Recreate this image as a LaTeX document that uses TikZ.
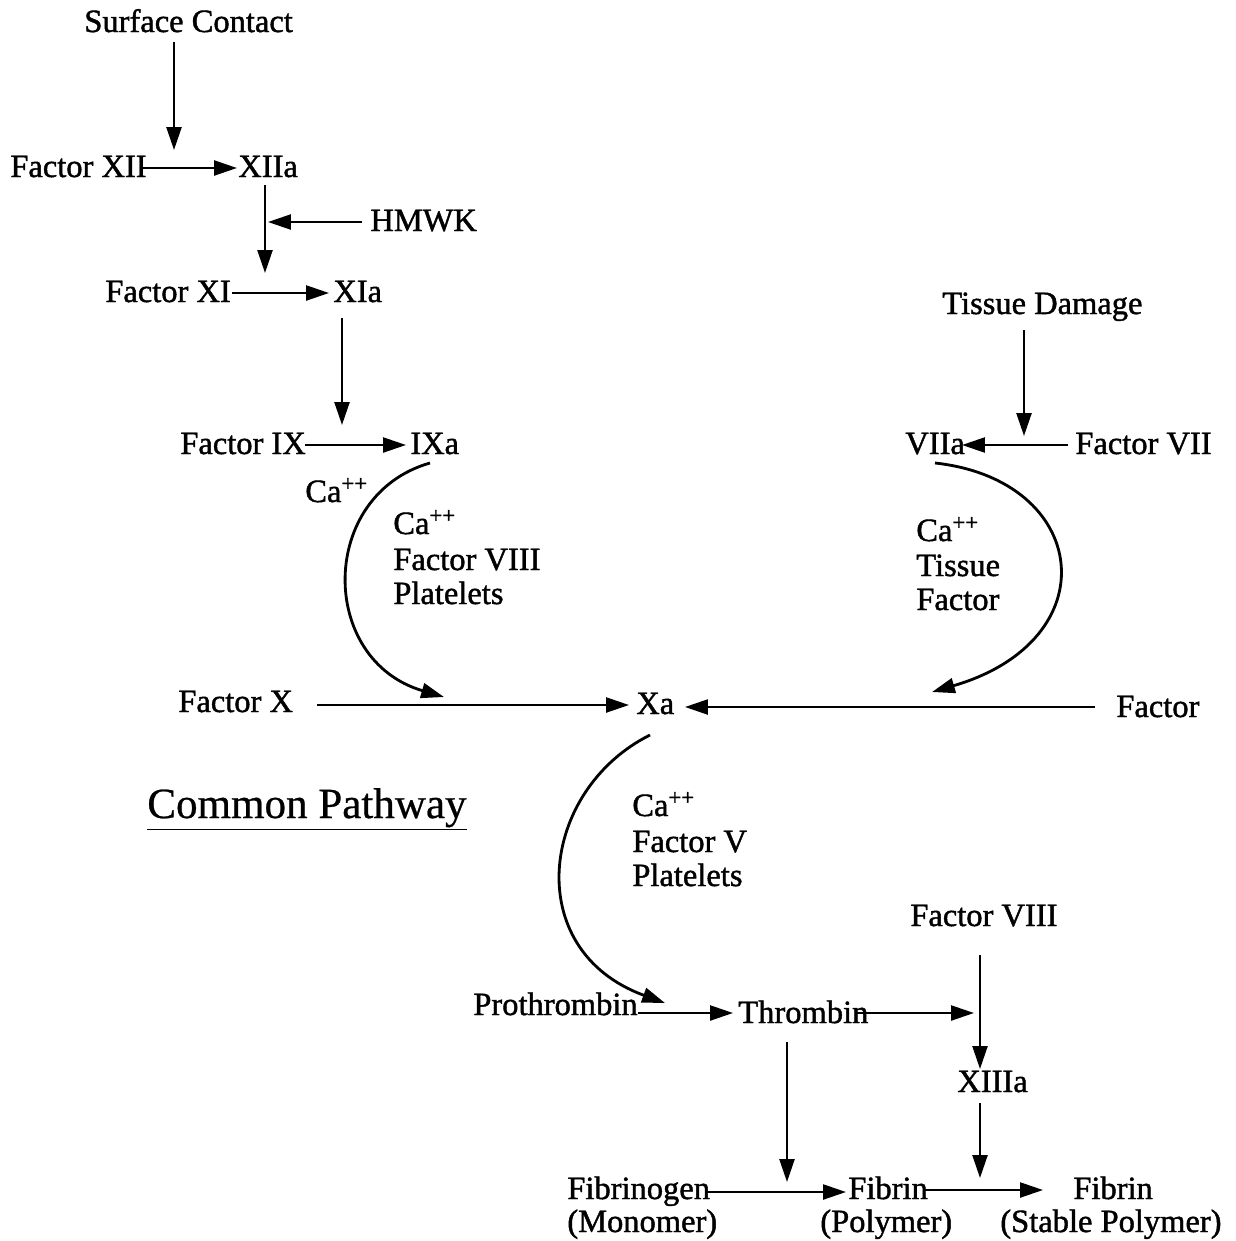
\documentclass[tikz,border=0pt]{standalone}
\usepackage{fontspec}
\setmainfont{Liberation Serif}[FakeBold=1.3]
\newfontfamily\cpfont{Liberation Serif}[FakeBold=0.6]
\usetikzlibrary{arrows.meta}
\begin{document}
\begin{tikzpicture}[x=0.02cm,y=-0.02cm,
  lbl/.style={anchor=base west,inner sep=0pt,font=\fontsize{18.5}{22}\selectfont},
  arr/.style={line width=1.3pt,-{Triangle[length=13pt,width=8.5pt]}},
  carr/.style={line width=1.6pt,-{Triangle[length=13pt,width=8.5pt]}}]
\useasboundingbox (0,0) rectangle (1235,1241);
% nodes
\node[lbl] (sc) at (84,32) {Surface Contact};
\node[lbl] (f12) at (10,177) {Factor XII};
\node[lbl] (f12a) at (238,177) {XIIa};
\node[lbl] (hmwk) at (370,231) {HMWK};
\node[lbl] (f11) at (105,302) {Factor XI};
\node[lbl] (f11a) at (333,302) {XIa};
\node[lbl] (f9) at (180,454) {Factor IX};
\node[lbl] (f9a) at (410,454) {IXa};
\node[lbl] (ca1) at (305,502) {Ca\textsuperscript{++}};
\node[lbl] (cof8) at (393,534) {Ca\textsuperscript{++}};
\node[lbl] (cof8b) at (393,570) {Factor VIII};
\node[lbl] (cof8c) at (393,604) {Platelets};
\node[lbl] (td) at (942,314) {Tissue Damage};
\node[lbl] (f7a) at (905,454) {VIIa};
\node[lbl] (f7) at (1075,454) {Factor VII};
\node[lbl] (cotf) at (916,541) {Ca\textsuperscript{++}};
\node[lbl] (cotfb) at (916,576) {Tissue};
\node[lbl] (cotfc) at (916,610) {Factor};
\node[lbl] (f10) at (178,712) {Factor X};
\node[lbl] (f10a) at (636,714) {Xa};
\node[lbl] (fr) at (1116,717) {Factor};
\node[anchor=base west,inner sep=0pt,font=\cpfont\fontsize{24.5}{28}\selectfont] (cp) at (147,818) {\underline{Common Pathway}};
\node[lbl] (co5) at (632,816) {Ca\textsuperscript{++}};
\node[lbl] (co5b) at (632,852) {Factor V};
\node[lbl] (co5c) at (632,886) {Platelets};
\node[lbl] (f8) at (910,926) {Factor VIII};
\node[lbl] (pro) at (473,1015) {Prothrombin};
\node[lbl] (thr) at (738,1023) {Thrombin};
\node[lbl] (f13a) at (957,1092) {XIIIa};
\node[lbl] (fbg) at (567,1199) {Fibrinogen};
\node[lbl] (fbgb) at (567,1232) {(Monomer)};
\node[lbl] (fb) at (848,1199) {Fibrin};
\node[lbl] (fbb) at (820,1232) {(Polymer)};
\node[lbl] (fs) at (1073,1199) {Fibrin};
\node[lbl] (fsb) at (1000,1232) {(Stable Polymer)};
% junction coordinates
\coordinate (j1) at (174,42);  \coordinate (j1e) at (174,150);
\coordinate (j2) at (142,168); \coordinate (j2e) at (237,168);
\coordinate (j3) at (265,185); \coordinate (j3e) at (265,273);
\coordinate (j4) at (362,222); \coordinate (j4e) at (268,222);
\coordinate (j5) at (232,293); \coordinate (j5e) at (329,293);
\coordinate (j6) at (342,318); \coordinate (j6e) at (342,425);
\coordinate (j7) at (305,445); \coordinate (j7e) at (406,445);
\coordinate (j8) at (1024,330); \coordinate (j8e) at (1024,436);
\coordinate (j9) at (1068,445); \coordinate (j9e) at (962,445);
\coordinate (j10) at (317,705); \coordinate (j10e) at (629,705);
\coordinate (j11) at (1095,707); \coordinate (j11e) at (685,707);
\coordinate (j12) at (638,1013); \coordinate (j12e) at (733,1013);
\coordinate (j13) at (857,1013); \coordinate (j13e) at (974,1013);
\coordinate (j14) at (980,955); \coordinate (j14e) at (980,1069);
\coordinate (j15) at (980,1103); \coordinate (j15e) at (980,1178);
\coordinate (j16) at (787,1042); \coordinate (j16e) at (787,1182);
\coordinate (j17) at (705,1192); \coordinate (j17e) at (846,1192);
\coordinate (j18) at (925,1190); \coordinate (j18e) at (1043,1190);
% straight connectors
\draw[arr] (j1) -- (j1e);
\draw[arr] (j2) -- (j2e);
\draw[arr] (j3) -- (j3e);
\draw[arr] (j4) -- (j4e);
\draw[arr] (j5) -- (j5e);
\draw[arr] (j6) -- (j6e);
\draw[arr] (j7) -- (j7e);
\draw[arr] (j8) -- (j8e);
\draw[arr] (j9) -- (j9e);
\draw[arr] (j10) -- (j10e);
\draw[arr] (j11) -- (j11e);
\draw[arr] (j12) -- (j12e);
\draw[arr] (j13) -- (j13e);
\draw[arr] (j14) -- (j14e);
\draw[arr] (j15) -- (j15e);
\draw[arr] (j16) -- (j16e);
\draw[arr] (j17) -- (j17e);
\draw[arr] (j18) -- (j18e);
% curved connectors
\coordinate (c1s) at (430,463); \coordinate (c1e) at (444,697);
\draw[carr] (c1s) .. controls (318,495) and (318,660) .. (c1e);
\coordinate (c2s) at (935,463); \coordinate (c2e) at (932,692);
\draw[carr] (c2s) .. controls (1090,480) and (1110,640) .. (c2e);
\coordinate (c3s) at (650,735); \coordinate (c3e) at (665,1003);
\draw[carr] (c3s) .. controls (540,790) and (520,950) .. (c3e);
\end{tikzpicture}
\end{document}
